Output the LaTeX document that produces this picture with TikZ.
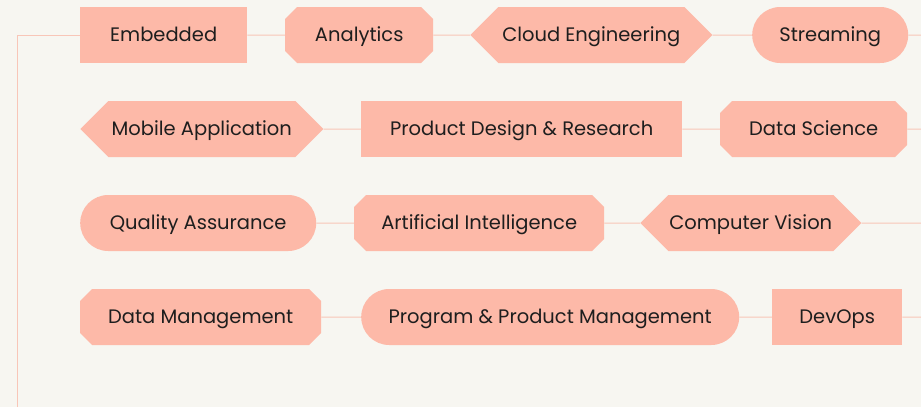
\documentclass[tikz,border=0pt]{standalone}
\usepackage{fontspec}
\setmainfont{Poppins}
\usetikzlibrary{shapes.misc,shapes.symbols,backgrounds}
\definecolor{bgpaper}{HTML}{F7F6F1}
\definecolor{salmon}{HTML}{FDB9A8}
\definecolor{wire}{HTML}{F8C6B8}
\definecolor{ink}{HTML}{1E1E1E}

\begin{document}
\begin{tikzpicture}[x=1pt, y=1pt, font=\fontsize{19.5}{22}\selectfont,
  tag/.style={fill=salmon, text=ink, minimum height=56pt, inner sep=0pt, anchor=west,
    text height=16pt, text depth=3pt},
  plain/.style={tag, rectangle},
  cut/.style={tag, chamfered rectangle, chamfered rectangle xsep=6pt, chamfered rectangle ysep=6pt},
  hexa/.style={tag, signal, signal to=west and east, signal pointer angle=90},
  pill/.style={tag, rounded rectangle},
  link/.style={draw=wire, line width=1pt}]
  \useasboundingbox (0,0) rectangle (921,-407);
  % row one
  \node[plain, minimum width=167pt] (emb) at (80,-35)  {Embedded};
  \node[cut,   minimum width=148pt] (ana) at (285,-35) {Analytics};
  \node[hexa,  minimum width=242pt] (cld) at (470,-35) {Cloud Engineering};
  \node[pill,  minimum width=156pt] (str) at (752,-35) {Streaming};
  % row two
  \node[hexa,  minimum width=243pt] (mob) at (80,-129)  {Mobile Application};
  \node[plain, minimum width=321pt] (pdr) at (361,-129) {Product Design \& Research};
  \node[cut,   minimum width=187pt] (dsc) at (720,-129) {Data Science};
  % row three
  \node[pill,  minimum width=236pt] (qas) at (80,-223)  {Quality Assurance};
  \node[cut,   minimum width=250pt] (art) at (354,-223) {Artificial Intelligence};
  \node[hexa,  minimum width=221pt] (cvi) at (640,-223) {Computer Vision};
  % row four
  \node[cut,   minimum width=241pt] (dmg) at (80,-317)  {Data Management};
  \node[pill,  minimum width=378pt] (ppm) at (361,-317) {Program \& Product Management};
  \node[plain, minimum width=130pt] (dev) at (772,-317) {DevOps};
  % free ends
  \coordinate (top) at (17,-35);
  \coordinate (bot) at (17,-407);
  \coordinate (e1) at (921,-35);
  \coordinate (e2) at (921,-129);
  \coordinate (e3) at (921,-223);
  \coordinate (e4) at (921,-317);
  \begin{scope}[on background layer]
    \fill[bgpaper] (0,0) rectangle (921,-407);
    \draw[link] (bot) -- (top) -- (emb);
    \draw[link] (emb) -- (ana) -- (cld) -- (str) -- (e1);
    \draw[link] (mob) -- (pdr) -- (dsc) -- (e2);
    \draw[link] (qas) -- (art) -- (cvi) -- (e3);
    \draw[link] (dmg) -- (ppm) -- (dev) -- (e4);
  \end{scope}
\end{tikzpicture}
\end{document}
